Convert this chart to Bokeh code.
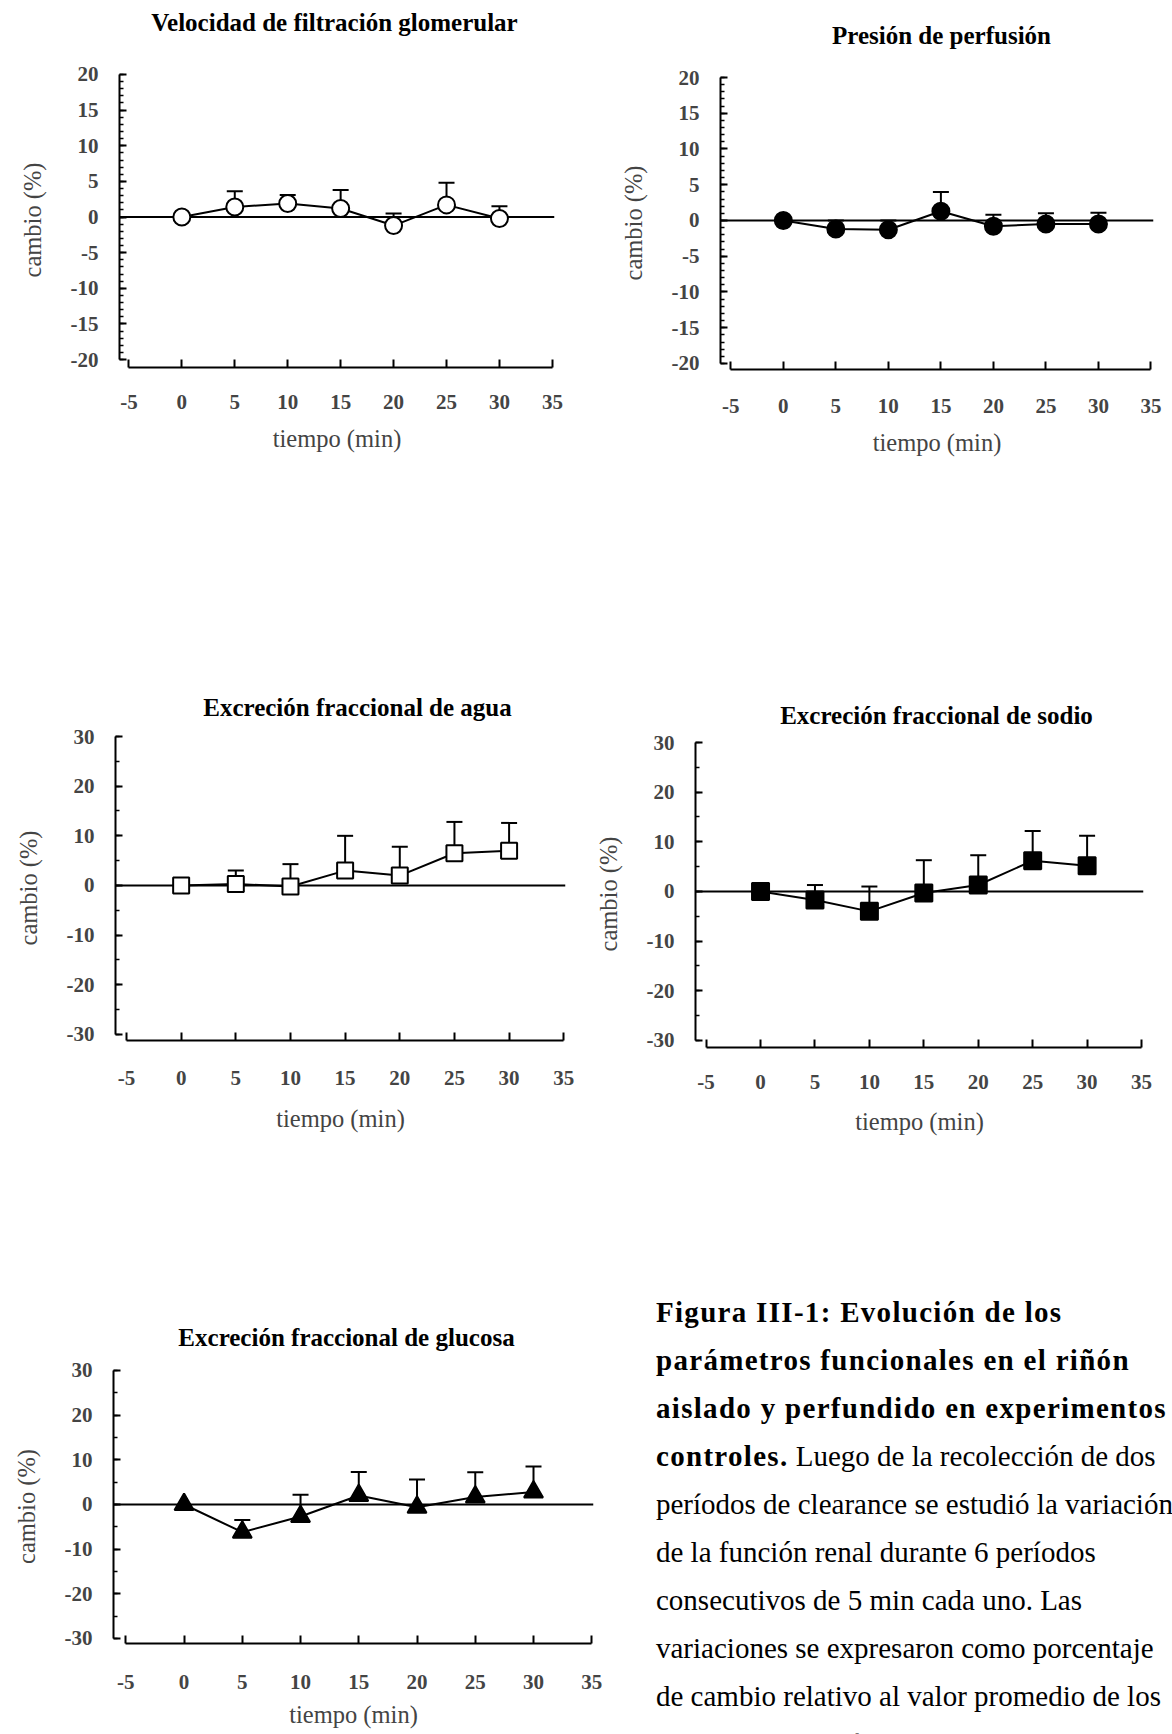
from bokeh.plotting import figure
from bokeh.models import (Range1d, FixedTicker, Span, Whisker, TeeHead, ColumnDataSource,
                          Label, Div, CustomJSTickFormatter)
from bokeh.layouts import column, row
from bokeh.embed import file_html
from bokeh.resources import INLINE

# ---------------- data ----------------
tiempo = [0, 5, 10, 15, 20, 25, 30]

vfg = [0.0, 1.4, 1.9, 1.2, -1.2, 1.7, -0.2]
vfg_sup = [0.0, 3.6, 3.1, 3.8, 0.5, 4.8, 1.5]

presion = [0.0, -1.2, -1.3, 1.3, -0.8, -0.5, -0.5]
presion_sup = [0.0, 0.0, 0.0, 4.0, 0.8, 1.0, 1.1]

agua = [0.0, 0.3, -0.2, 3.0, 2.0, 6.5, 7.0]
agua_sup = [0.0, 3.0, 4.3, 10.0, 7.8, 12.8, 12.6]

sodio = [0.0, -1.7, -4.0, -0.3, 1.3, 6.2, 5.2]
sodio_sup = [0.0, 1.3, 1.0, 6.3, 7.3, 12.2, 11.2]

glucosa = [0.0, -6.2, -2.7, 2.0, -0.6, 1.7, 2.8]
glucosa_sup = [0.0, -3.5, 2.2, 7.3, 5.6, 7.2, 8.5]

x_ticks = [-5, 0, 5, 10, 15, 20, 25, 30, 35]
y_ticks_20 = [-20, -15, -10, -5, 0, 5, 10, 15, 20]
y_minor_20 = list(range(-20, 21))
y_ticks_30 = [-30, -20, -10, 0, 10, 20, 30]
y_minor_30 = list(range(-30, 31, 5))

titles = [
    "Velocidad de filtración glomerular",
    "Presión de perfusión",
    "Excreción fraccional de agua",
    "Excreción fraccional de sodio",
    "Excreción fraccional de glucosa",
]
x_label = "tiempo (min)"
y_label = "cambio (%)"

caption_bold = [
    "Figura III-1: Evolución de los",
    "parámetros funcionales en el riñón",
    "aislado y perfundido en experimentos",
    "controles.",
]
caption_regular = [
    " Luego de la recolección de dos",
    "períodos de clearance se estudió la variación",
    "de la función renal durante 6 períodos",
    "consecutivos de 5 min cada uno. Las",
    "variaciones se expresaron como porcentaje",
    "de cambio relativo al valor promedio de los",
    "dos primeros períodos.",
]

FONT = "Liberation Serif"
TICK_FMT = "return tick.toFixed(0);"


def strip(fw, bl, br, h, text, cx, cy):
    s = figure(frame_width=fw, frame_height=h,
               min_border_left=bl, min_border_right=br,
               min_border_top=0, min_border_bottom=0,
               x_range=Range1d(0, fw), y_range=Range1d(h, 0),
               x_axis_type=None, y_axis_type=None,
               output_backend="svg", toolbar_location=None, tools="")
    s.outline_line_color = None
    s.grid.visible = False
    s.background_fill_color = "white"
    s.border_fill_color = "white"
    s.add_layout(Label(x=cx, y=cy, text=text,
                       text_font=FONT, text_font_style="bold",
                       text_font_size="25px", text_align="center",
                       text_baseline="middle", text_color="black"))
    return s


def panel(fw, fh, bl, bt, br, bb, xr, yr, yt, ym, ys, sup, marker, fill, msize,
          xt_std, xl_std):
    p = figure(frame_width=fw, frame_height=fh,
               min_border_left=bl, min_border_top=bt,
               min_border_right=br, min_border_bottom=bb,
               x_range=Range1d(*xr), y_range=Range1d(*yr),
               output_backend="svg", toolbar_location=None, tools="")
    p.outline_line_color = None
    p.grid.visible = False
    p.background_fill_color = "white"
    p.border_fill_color = "white"

    # x axis
    xa = p.xaxis[0]
    xa.ticker = FixedTicker(ticks=x_ticks)
    xa.formatter = CustomJSTickFormatter(code=TICK_FMT)
    xa.bounds = (-5, 35)
    xa.axis_line_width = 2
    xa.major_tick_line_width = 2
    xa.major_tick_in = 8
    xa.major_tick_out = 0
    xa.minor_tick_line_color = None
    xa.major_label_text_font = FONT
    xa.major_label_text_font_style = "bold"
    xa.major_label_text_font_size = "21px"
    xa.major_label_standoff = int(xt_std)
    xa.axis_label = x_label
    xa.axis_label_text_font = FONT
    xa.axis_label_text_font_style = "normal"
    xa.axis_label_text_font_size = "24.5px"
    xa.axis_label_standoff = int(xl_std)

    # y axis
    ya = p.yaxis[0]
    ya.ticker = FixedTicker(ticks=yt, minor_ticks=ym)
    ya.formatter = CustomJSTickFormatter(code=TICK_FMT)
    ya.bounds = (yt[0], yt[-1])
    ya.axis_line_width = 2
    ya.major_tick_line_width = 2
    ya.major_tick_in = 7
    ya.major_tick_out = 0
    ya.minor_tick_line_width = 1.5
    ya.minor_tick_in = 4
    ya.minor_tick_out = 0
    ya.major_label_text_font = FONT
    ya.major_label_text_font_style = "bold"
    ya.major_label_text_font_size = "21px"
    ya.major_label_standoff = 21
    ya.axis_label = y_label
    ya.axis_label_text_font = FONT
    ya.axis_label_text_font_style = "normal"
    ya.axis_label_text_font_size = "24.5px"
    ya.axis_label_standoff = 22

    # zero reference line
    p.add_layout(Span(location=0, dimension="width", line_color="black",
                      line_width=2, level="underlay"))

    # error bars (upper only)
    src_err = ColumnDataSource(dict(x=tiempo[1:], y=ys[1:], sup=sup[1:]))
    p.add_layout(Whisker(source=src_err, base="x", lower="y", upper="sup",
                         dimension="height", line_color="black", line_width=2,
                         lower_head=None,
                         upper_head=TeeHead(size=16, line_width=2, line_color="black"),
                         level="underlay"))

    src = ColumnDataSource(dict(x=tiempo, y=ys))
    p.line("x", "y", source=src, line_color="black", line_width=2)
    p.scatter("x", "y", source=src, marker=marker, size=msize,
              fill_color=fill, line_color="black", line_width=2)
    return p


p1 = panel(435, 295, 119, 22, 46, 313, (-5.888, 35.2), (-21.12, 20.28),
           y_ticks_20, y_minor_20, vfg, vfg_sup, "circle", "white", 17, 27, 13)
p2 = panel(433, 293, 120, 16, 19, 311, (-5.98, 35.24), (-20.84, 20.14),
           y_ticks_20, y_minor_20, presion, presion_sup, "circle", "black", 17, 29, 13)
p3 = panel(450, 305, 115, 11, 25, 240, (-6.006, 35.16), (-31.21, 30.2),
           y_ticks_30, y_minor_30, agua, agua_sup, "square", "white", 16, 30, 17)
p4 = panel(448, 307, 105, 10, 29, 233, (-5.974, 35.18), (-31.41, 30.4),
           y_ticks_30, y_minor_30, sodio, sodio_sup, "square", "black", 17, 27, 16)
p5 = panel(480, 274, 113, 17, 19, 91, (-6.056, 35.15), (-31.12, 30.22),
           y_ticks_30, y_minor_30, glucosa, glucosa_sup, "triangle", "black", 19, 31, 9)

s1 = strip(435, 119, 46, 50, titles[0], 215, 22)
s2 = strip(433, 120, 19, 60, titles[1], 221, 35)
s3 = strip(450, 115, 25, 44, titles[2], 242, 27)
s4 = strip(448, 105, 29, 50, titles[3], 241, 35)
s5 = strip(480, 113, 19, 72, titles[4], 233, 57)

BOLD = "<b style=\"letter-spacing:1.3px\">%s</b>"
lines_html = [BOLD % t for t in caption_bold[:3]]
lines_html.append((BOLD % caption_bold[3]) + caption_regular[0])
lines_html.extend(caption_regular[1:])
caption_html = (
    "<div style=\"font-family:'Liberation Serif',serif; font-size:29px; "
    "line-height:48px; color:#000; padding:3px 0 0 39px; white-space:nowrap;\">"
    + "<br>".join(lines_html) + "</div>"
)
cap = Div(text=caption_html, width=560, height=454,
          styles={"overflow": "hidden", "background-color": "white"})

layout = column(
    row(column(s1, p1), column(s2, p2)),
    row(column(s3, p3), column(s4, p4)),
    row(column(s5, p5), cap),
)

open("out.html", "w").write(file_html(layout, INLINE))
